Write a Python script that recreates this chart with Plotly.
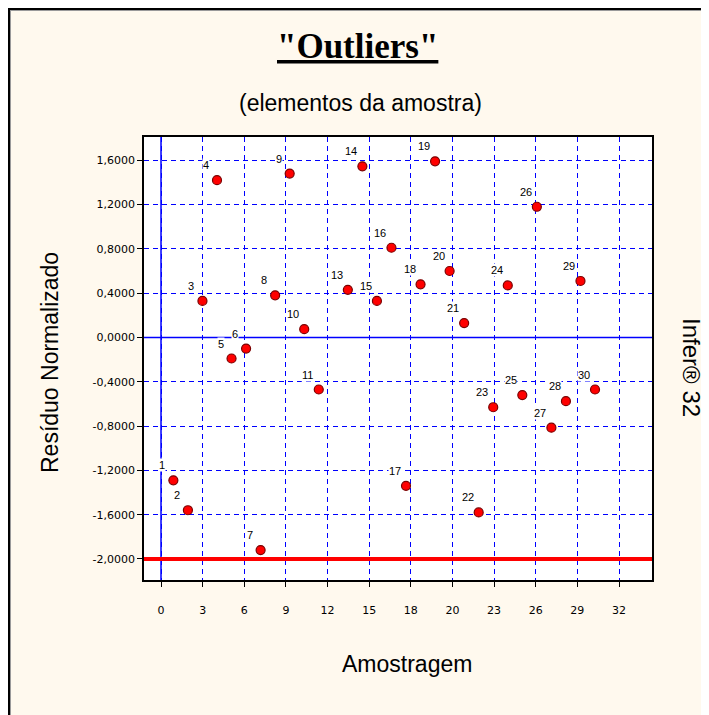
import numpy as np
import plotly.graph_objects as go

# ---- data ----
sample_ids = [1, 2, 3, 4, 5, 6, 7, 8, 9, 10, 11, 13, 14, 15, 16, 17, 18, 19, 20,
              21, 22, 23, 24, 25, 26, 27, 28, 29, 30]
residuals = [-1.29, -1.56, 0.33, 1.42, -0.19, -0.10, -1.92, 0.38, 1.48, 0.075,
             -0.47, 0.43, 1.545, 0.33, 0.81, -1.34, 0.48, 1.59, 0.60, 0.13,
             -1.58, -0.63, 0.47, -0.52, 1.18, -0.815, -0.575, 0.51, -0.47]
x_tick_labels = ["0", "3", "6", "9", "12", "15", "18", "20", "23", "26", "29", "32"]
y_tick_values = [1.6, 1.2, 0.8, 0.4, 0.0, -0.4, -0.8, -1.2, -1.6, -2.0]
y_tick_labels = ["1,6000", "1,2000", "0,8000", "0,4000", "0,0000", "-0,4000",
                 "-0,8000", "-1,2000", "-1,6000", "-2,0000"]
limit_value = -2.0

# ---- layout geometry (reference-window pixels; page body has an 8px margin) ----
OFF = 8
WIN_W, WIN_H = 709, 715
W, H = WIN_W - OFF, WIN_H - OFF
L, R, T, B = 144, 652, 137, 580  # plot area in window pixels
PW, PH = R - L, B - T


def px(xp):
    return (xp - L) / PW


def py(yp):
    return (B - yp) / PH


x_tick_vals = list(np.linspace(0.15, 31.65, len(x_tick_labels)))

fig = go.Figure()
fig.add_trace(go.Scatter(
    x=sample_ids, y=residuals, mode="markers",
    marker=dict(size=9, color="#FF0000", line=dict(color="#7A0000", width=1.2)),
    hoverinfo="x+y", showlegend=False,
))

label_font = dict(family="Liberation Sans, Arial, sans-serif", size=11, color="#000000")
annotations = []
for sid, r in zip(sample_ids, residuals):
    annotations.append(dict(
        x=sid, y=r, xref="x", yref="y", text=str(sid), showarrow=False,
        xanchor="center", yanchor="middle", xshift=-11, yshift=15,
        font=label_font, bgcolor="#FFFFFF", borderpad=0,
    ))

sans = "Liberation Sans, Arial, sans-serif"
annotations += [
    dict(x=px(357), y=py(47), xref="paper", yref="paper",
         text='<u><b>"Outliers"</b></u>', showarrow=False,
         xanchor="center", yanchor="middle",
         font=dict(family="Liberation Serif, Times New Roman, serif", size=35, color="#000000")),
    dict(x=px(360), y=py(103), xref="paper", yref="paper",
         text="(elementos da amostra)", showarrow=False,
         xanchor="center", yanchor="middle",
         font=dict(family=sans, size=23, color="#000000")),
    dict(x=px(407), y=py(664), xref="paper", yref="paper",
         text="Amostragem", showarrow=False, xanchor="center", yanchor="middle",
         font=dict(family=sans, size=23, color="#000000")),
    dict(x=px(50), y=py(363), xref="paper", yref="paper",
         text="Resíduo Normalizado", showarrow=False, textangle=-90,
         xanchor="center", yanchor="middle",
         font=dict(family=sans, size=23, color="#000000")),
    dict(x=px(692), y=py(367), xref="paper", yref="paper",
         text="Infer® 32", showarrow=False, textangle=90,
         xanchor="center", yanchor="middle",
         font=dict(family=sans, size=24, color="#000000")),
]

shapes = [
    # frame lines (top and left)
    dict(type="line", xref="paper", yref="paper", x0=px(OFF), x1=px(WIN_W), y0=py(9), y1=py(9),
         line=dict(color="#000000", width=2)),
    dict(type="line", xref="paper", yref="paper", x0=px(9), x1=px(WIN_W), y0=py(10.5), y1=py(10.5),
         line=dict(color="#9A9A9A", width=1)),
    dict(type="line", xref="paper", yref="paper", x0=px(9), x1=px(9), y0=py(OFF), y1=py(WIN_H),
         line=dict(color="#000000", width=2)),
    dict(type="line", xref="paper", yref="paper", x0=px(10.5), x1=px(10.5), y0=py(10), y1=py(WIN_H),
         line=dict(color="#9A9A9A", width=1)),
    # zero lines
    dict(type="line", xref="x", yref="paper", x0=x_tick_vals[0], x1=x_tick_vals[0], y0=0, y1=1,
         line=dict(color="#0000FF", width=1.5), layer="above"),
    dict(type="line", xref="paper", yref="y", x0=0, x1=1, y0=0, y1=0,
         line=dict(color="#0000FF", width=1.5), layer="above"),
    # limit line
    dict(type="line", xref="paper", yref="y", x0=0, x1=1, y0=limit_value, y1=limit_value,
         line=dict(color="#FF0000", width=4), layer="above"),
]

tick_font = dict(family="DejaVu Sans, sans-serif", size=11, color="#000000")

fig.update_layout(
    width=W, height=H,
    margin=dict(l=L - OFF, r=WIN_W - R, t=T - OFF, b=WIN_H - B, pad=0),
    paper_bgcolor="#FFF9EE", plot_bgcolor="#FFFFFF",
    annotations=annotations, shapes=shapes,
    showlegend=False,
)
fig.update_xaxes(
    range=[-1.02, 33.92], tickmode="array", tickvals=x_tick_vals, ticktext=x_tick_labels,
    showgrid=True, gridcolor="#0000FF", gridwidth=1, griddash="5px,4px",
    showline=True, linecolor="#000000", linewidth=1.5, mirror=True,
    ticks="outside", ticklen=5, tickcolor="#000000", tickwidth=1,
    ticklabelstandoff=14, tickfont=tick_font, zeroline=False,
)
fig.update_yaxes(
    range=[-2.19, 1.81], tickmode="array", tickvals=y_tick_values, ticktext=y_tick_labels,
    showgrid=True, gridcolor="#0000FF", gridwidth=1, griddash="5px,4px",
    showline=True, linecolor="#000000", linewidth=1.5, mirror=True,
    ticks="outside", ticklen=5, tickcolor="#000000", tickwidth=1,
    tickfont=tick_font, zeroline=False,
)

fig.write_html("out.html")
